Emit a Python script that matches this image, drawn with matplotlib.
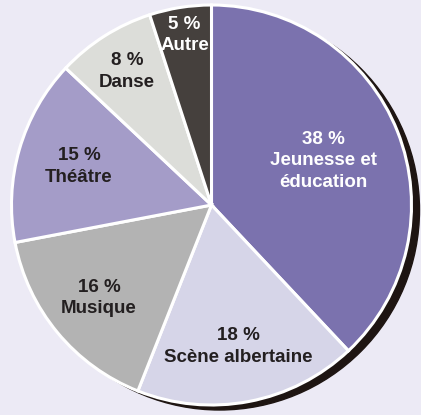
import matplotlib.pyplot as plt
from matplotlib.patches import Circle
import numpy as np

categories = ["Jeunesse et\néducation", "Scène albertaine", "Musique", "Théâtre", "Danse", "Autre"]
values = [38, 18, 16, 15, 8, 5]
colors = ["#7b72ae", "#d6d5e8", "#b3b3b3", "#a49cc8", "#dcddd9", "#45403d"]
text_colors = ["white", "#231f20", "#231f20", "#231f20", "#231f20", "white"]
label_dist = [0.6, 0.72, 0.73, 0.69, 0.79, 0.86]

bg = "#eceaf5"
cx, cy, r = 211.5, 210, 200

fig = plt.figure(figsize=(4.21, 4.15), dpi=100)
fig.patch.set_facecolor(bg)
ax = fig.add_axes([0, 0, 1, 1])
ax.set_facecolor(bg)

# shadow
ax.add_patch(Circle((cx + 8, cy - 5), r, color="#1e1512", zorder=1))

wedges, _ = ax.pie(values, colors=colors, startangle=90, counterclock=False,
                   center=(cx, cy), radius=r, frame=True,
                   wedgeprops=dict(edgecolor="white", linewidth=2.2, zorder=2))
ax.set_xlim(0, 421)
ax.set_ylim(0, 415)
ax.axis("off")

for w, cat, v, tc, d in zip(wedges, categories, values, text_colors, label_dist):
    ang = np.deg2rad((w.theta1 + w.theta2) / 2)
    x = cx + d * r * np.cos(ang)
    y = cy + d * r * np.sin(ang)
    ax.text(x, y, f"{v} %\n{cat}", ha="center", va="center", color=tc,
            fontsize=13.5, fontweight="bold", family=["Liberation Sans", "DejaVu Sans"],
            linespacing=1.35, zorder=3)

fig.savefig("out.png", dpi=100, facecolor=bg)
